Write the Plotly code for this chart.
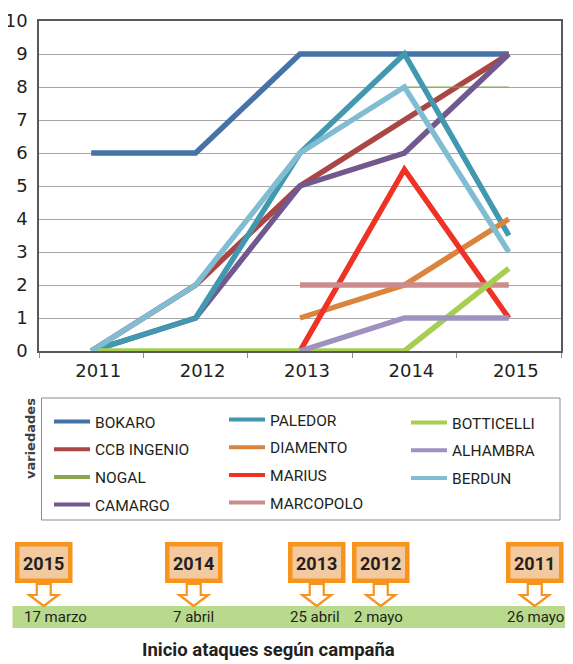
import plotly.graph_objects as go

# ---------------- data ----------------
years = ["2011", "2012", "2013", "2014", "2015"]
bokaro = [6, 6, 9, 9, 9]
ccb_ingenio = [0, 2, 5, 7, 9]
nogal = [None, None, None, 8, 8]
camargo = [0, 1, 5, 6, 9]
paledor = [0, 1, 6, 9, 3.5]
diamento = [None, None, 1, 2, 4]
marius = [None, None, 0, 5.5, 1]
marcopolo = [None, None, 2, 2, 2]
botticelli = [0, 0, 0, 0, 2.5]
alhambra = [None, None, 0, 1, 1]
berdun = [0, 2, 6, 8, 3]

campaign_years = ["2015", "2014", "2013", "2012", "2011"]
start_dates = ["17 marzo", "7 abril", "25 abril", "2 mayo", "26 mayo"]

# ---------------- layout constants ----------------
OFF = 8                      # default page (body) margin of the html page
W, H = 573 - OFF, 664 - OFF
PL, PR, PT, PB = 39, 561, 21, 351   # plot area in target-picture pixels

def X(px):
    return (px - PL) / (PR - PL)

def Y(py):
    return (PB - py) / (PB - PT)

NARROW = "Roboto, Liberation Sans, sans-serif"
WIDE = "DejaVu Sans, Verdana, sans-serif"
ORANGE = "#F7941D"

series = [
    ("BOKARO", bokaro, "#4572A7", 5.5, "legend"),
    ("CCB INGENIO", ccb_ingenio, "#AA4643", 5.5, "legend"),
    ("NOGAL", nogal, "#89A54E", 1, "legend"),
    ("CAMARGO", camargo, "#71588F", 5.5, "legend"),
    ("PALEDOR", paledor, "#4198AF", 5.5, "legend2"),
    ("DIAMENTO", diamento, "#DB843D", 5.5, "legend2"),
    ("MARIUS", marius, "#EE3326", 5.5, "legend2"),
    ("MARCOPOLO", marcopolo, "#CD8C8C", 5.5, "legend2"),
    ("BOTTICELLI", botticelli, "#A6CE50", 5.5, "legend3"),
    ("ALHAMBRA", alhambra, "#9F92C0", 5.5, "legend3"),
    ("BERDUN", berdun, "#80BDD3", 5.5, "legend3"),
]

fig = go.Figure()
for name, vals, col, lw, _ in series:
    fig.add_trace(go.Scatter(x=years, y=vals, mode="lines", name=name,
                             line=dict(color=col, width=lw),
                             connectgaps=False, showlegend=False))
# legend entries (uniform line thickness as in the reference)
for name, vals, col, lw, leg in series:
    fig.add_trace(go.Scatter(x=[None], y=[None], mode="lines", name=name,
                             line=dict(color=col, width=4),
                             legend=leg, legendgroup=name, showlegend=True))

# ---------------- shapes ----------------
shapes = []
# legend frame
shapes.append(dict(type="rect", xref="paper", yref="paper",
                   x0=X(41.5), x1=X(560), y0=Y(520), y1=Y(398),
                   line=dict(color="#8C8C8C", width=1), fillcolor="rgba(0,0,0,0)"))
# green timeline band
shapes.append(dict(type="rect", xref="paper", yref="paper",
                   x0=X(12.5), x1=X(580), y0=Y(628), y1=Y(606),
                   line=dict(width=0), fillcolor="#B9DA8C"))

box_left = [15, 165, 288, 352, 506]
date_left = [23, 172, 289, 353, 506]
box_w = 57.5
bw = 4.5
annotations = []
for yr, dt, bl, dl in zip(campaign_years, start_dates, box_left, date_left):
    cx = bl + box_w / 2
    shapes.append(dict(type="rect", xref="paper", yref="paper",
                       x0=X(bl + bw / 2), x1=X(bl + box_w - bw / 2),
                       y0=Y(583 - bw / 2), y1=Y(542 + bw / 2),
                       line=dict(color=ORANGE, width=bw), fillcolor="#F3C9A0"))
    pts = [(cx - 7, 584), (cx - 7, 595), (cx - 14.5, 595), (cx, 606),
           (cx + 14.5, 595), (cx + 7, 595), (cx + 7, 584)]
    path = "M " + " L ".join(f"{X(a):.5f},{Y(b):.5f}" for a, b in pts) + " Z"
    shapes.append(dict(type="path", xref="paper", yref="paper", path=path,
                       line=dict(color=ORANGE, width=2.2), fillcolor="white"))
    annotations.append(dict(x=X(cx), y=Y(563), xref="paper", yref="paper",
                            xanchor="center", yanchor="middle",
                            text=f"<b>{yr}</b>", showarrow=False,
                            font=dict(family=NARROW, size=18, color="#231F20")))
    annotations.append(dict(x=X(dl), y=Y(617), xref="paper", yref="paper",
                            xanchor="left", yanchor="middle", text=dt, showarrow=False,
                            xshift=-1,
                            font=dict(family=NARROW, size=15, color="#231F20")))

annotations.append(dict(x=X(30), y=Y(439), xref="paper", yref="paper",
                        xanchor="center", yanchor="middle",
                        text="<b>variedades</b>", textangle=-90, showarrow=False,
                        font=dict(family=WIDE, size=13, color="#404040")))
annotations.append(dict(x=X(268), y=Y(650), xref="paper", yref="paper",
                        xanchor="center", yanchor="middle",
                        text="<b>Inicio ataques según campaña</b>", showarrow=False,
                        font=dict(family=NARROW, size=18.5, color="#231F20")))

leg_common = dict(xanchor="left", yanchor="top", bgcolor="rgba(0,0,0,0)",
                  borderwidth=0, tracegroupgap=4.5, itemwidth=36,
                  font=dict(family=NARROW, size=15.5, color="#231F20"))

fig.update_layout(
    width=W, height=H,
    margin=dict(l=PL - OFF, r=573 - PR, t=PT - OFF, b=(H - (PT - OFF)) - (PB - PT),
                pad=0, autoexpand=False),
    paper_bgcolor="white", plot_bgcolor="white",
    font=dict(family=WIDE, color="#231F20"),
    xaxis=dict(type="category", categoryorder="array", categoryarray=years,
               range=[-0.5, 4.5], automargin=False,
               showgrid=False, showline=True, linecolor="#595959", linewidth=1.5,
               mirror=True, ticks="outside", tickson="boundaries", ticklen=5,
               ticklabelshift=7, ticklabelstandoff=3,
               tickcolor="#8C8C8C", tickfont=dict(family=WIDE, size=18, color="#231F20")),
    yaxis=dict(range=[0, 10], dtick=1, showgrid=True, gridcolor="#A6A6A6", gridwidth=1,
               showline=True, linecolor="#595959", linewidth=1.5, mirror=True,
               zeroline=False, ticks="", ticklabelstandoff=6, automargin=False,
               tickfont=dict(family=WIDE, size=18, color="#231F20")),
    legend=dict(x=X(49), y=Y(405), **leg_common),
    legend2=dict(x=X(224), y=Y(403), **leg_common),
    legend3=dict(x=X(406), y=Y(406), **leg_common),
    shapes=shapes, annotations=annotations,
)

fig.write_html("out.html")
